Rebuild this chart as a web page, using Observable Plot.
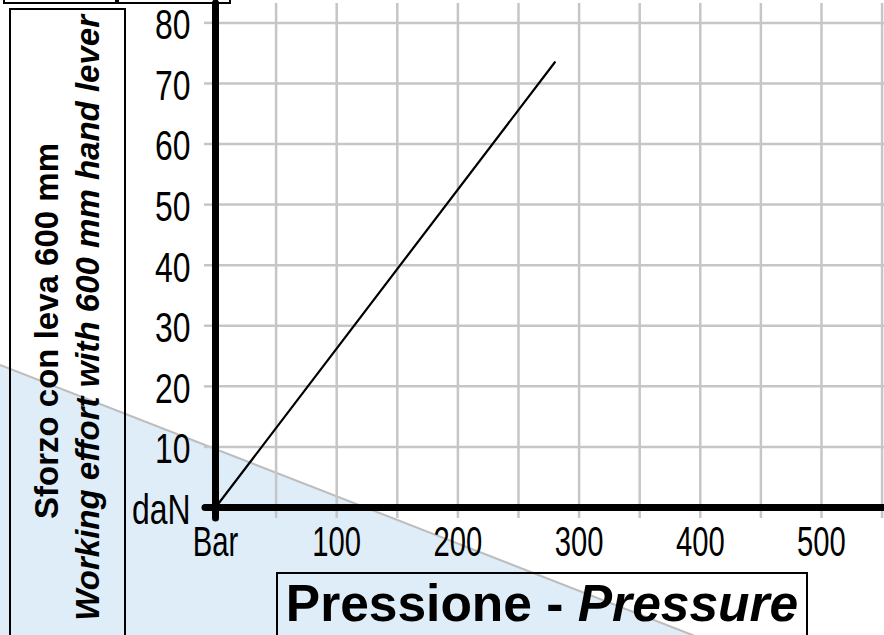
<!DOCTYPE html>
<html>
<head>
<meta charset="utf-8">
<script src="https://cdn.jsdelivr.net/npm/d3@7"></script>
<script src="https://cdn.jsdelivr.net/npm/@observablehq/plot@0.6"></script>
<style>
  html, body { margin: 0; padding: 0; background: #fff; }
  #page { position: relative; width: 884px; height: 635px; overflow: hidden; background: #fff; }
  #bg { position: absolute; left: 0; top: 0; }
  #chart { position: absolute; left: 0; top: 0; }
  .box { position: absolute; border: 2px solid #000; box-sizing: border-box; }
  .rot { position: absolute; width: 700px; text-align: right; white-space: nowrap;
         transform-origin: 0 0; transform: rotate(-90deg);
         font-family: "Liberation Sans", Arial, sans-serif; font-weight: bold;
         font-size: 33px; line-height: 33px; color: #000; }
  #xtitle { position: absolute; left: 276px; top: 572px; width: 532px; height: 66px;
            border: 2px solid #000; box-sizing: border-box; text-align: center;
            font-family: "Liberation Sans", Arial, sans-serif; font-weight: bold;
            font-size: 51.5px; line-height: 51.5px; padding-top: 4px; white-space: nowrap; color: #000; }
</style>
</head>
<body>
<div id="page">
  <svg id="bg" width="884" height="635">
    <polygon points="0,365 700,638 0,638" fill="#dfedf9"></polygon>
    <line x1="0" y1="365" x2="700" y2="638" stroke="#bdbdbd" stroke-width="2"></line>
  </svg>
  <div id="chart"></div>
  <div class="box" style="left:3px;top:-12px;width:116px;height:16px;"></div>
  <div class="box" style="left:115px;top:-12px;width:116px;height:16px;"></div>
  <div class="box" style="left:9px;top:8px;width:117px;height:660px;"></div>
  <div class="rot" style="left:30px;top:843px;">Sforzo con leva 600 mm</div>
  <div class="rot" style="left:71px;top:715px;font-style:italic;">Working effort with 600 mm hand lever</div>
  <div id="xtitle">Pressione - <i>Pressure</i></div>
</div>
<script>
// Data
const pressure = [0, 280];          // Bar
const effort = [0, 73.5];           // daN
const xTickValues = [0, 100, 200, 300, 400, 500];
const xTickLabels = ["Bar", "100", "200", "300", "400", "500"];
const yTickValues = [0, 10, 20, 30, 40, 50, 60, 70, 80];
const yTickLabels = ["daN", "10", "20", "30", "40", "50", "60", "70", "80"];
const xGridValues = [50, 100, 150, 200, 250, 300, 350, 400, 450, 500, 550];
const yGridValues = [10, 20, 30, 40, 50, 60, 70, 80];

const xLabel = new Map(xTickValues.map((v, i) => [v, xTickLabels[i]]));
const yLabel = new Map(yTickValues.map((v, i) => [v, yTickLabels[i]]));
const series = pressure.map((p, i) => ({p, e: effort[i]}));

const gray = "#c6c6c6";
const tickFont = "'Liberation Sans', Arial, sans-serif";

const chart = Plot.plot({
  width: 884,
  height: 635,
  marginLeft: 215,
  marginRight: 0,
  marginTop: 3,
  marginBottom: 128,
  x: {domain: [0, 552]},
  y: {domain: [0, 83.2]},
  style: {background: "transparent", fontFamily: tickFont, overflow: "visible", color: "#000"},
  marks: [
    Plot.gridX(xGridValues, {stroke: gray, strokeOpacity: 1, strokeWidth: 2.5}),
    Plot.gridY(yGridValues, {stroke: gray, strokeOpacity: 1, strokeWidth: 2.5}),
    Plot.axisX(xGridValues, {tickSize: 11, stroke: gray, strokeWidth: 2.5, fill: "none", label: null}),
    Plot.axisY(yGridValues, {tickSize: 11, stroke: gray, strokeWidth: 2.5, fill: "none", label: null}),
    Plot.ruleX([0], {stroke: "#000", strokeWidth: 7, strokeLinecap: "round"}),
    Plot.ruleY([0], {stroke: "#000", strokeWidth: 7}),
    Plot.axisX([0], {tickSize: 11, stroke: "#000", strokeWidth: 7, strokeLinecap: "round", fill: "none", label: null}),
    Plot.axisY([0], {tickSize: 10, stroke: "#000", strokeWidth: 7, strokeLinecap: "round", fill: "none", label: null}),
    Plot.line(series, {x: "p", y: "e", stroke: "#000", strokeWidth: 2.2}),
    Plot.axisX(xTickValues, {tickSize: 0, tickPadding: 18, tickFormat: d => xLabel.get(d), fontSize: 43, fill: "#000", label: null}),
    Plot.axisY(yTickValues, {tickSize: 0, tickPadding: 25, tickFormat: d => yLabel.get(d), fontSize: 42, fill: "#000", dy: 3, label: null})
  ]
});
document.getElementById("chart").appendChild(chart);

// Condense the tick labels horizontally (narrow technical lettering),
// keeping each label's anchor point fixed.
function squeeze(texts, sx, anchor) {
  texts.forEach(t => {
    const parent = t.parentNode;
    const r = t.getBoundingClientRect();
    const sxPt = anchor === "end" ? r.right : (r.left + r.right) / 2;
    const p = new DOMPoint(sxPt, r.top).matrixTransform(parent.getScreenCTM().inverse());
    const g = document.createElementNS("http://www.w3.org/2000/svg", "g");
    g.setAttribute("transform", `translate(${p.x},0) scale(${sx},1) translate(${-p.x},0)`);
    parent.insertBefore(g, t);
    g.appendChild(t);
  });
}
const allTexts = [...chart.querySelectorAll("text")];
const xTexts = allTexts.filter(t => xTickLabels.includes(t.textContent) && t.getBoundingClientRect().top > 515);
const yTexts = allTexts.filter(t => yTickLabels.includes(t.textContent) && t.getBoundingClientRect().top <= 515);
squeeze(xTexts, 0.68, "middle");
squeeze(yTexts, 0.76, "end");
</script>
</body>
</html>
